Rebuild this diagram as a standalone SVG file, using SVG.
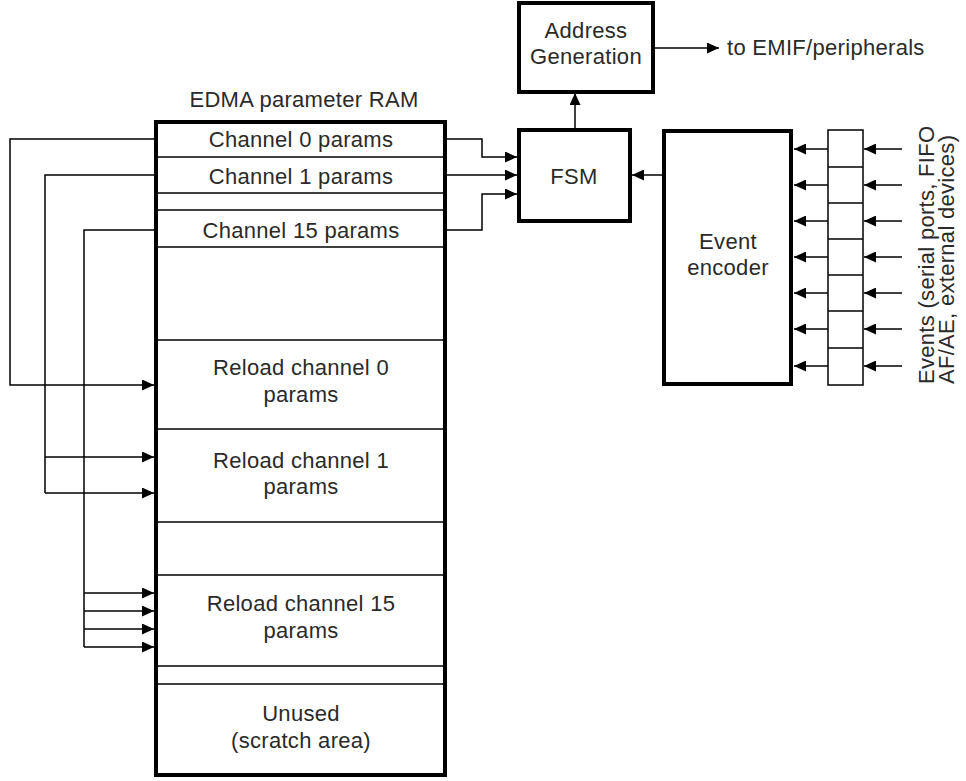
<svg xmlns="http://www.w3.org/2000/svg" width="966" height="781" viewBox="0 0 966 781">
<style>
text{font-family:"Liberation Sans",Arial,sans-serif;font-size:22px;letter-spacing:0.3px;fill:#2a2a2a;}
.c{text-anchor:middle;}
.box{fill:#fff;stroke:#000;stroke-width:4;}
.thin{fill:none;stroke:#000;stroke-width:1.5;}
.w{stroke:#000;stroke-width:1.5;fill:none;}
.a{stroke:#000;stroke-width:1.5;fill:none;marker-end:url(#ah);}
</style>
<defs>
<marker id="ah" markerUnits="userSpaceOnUse" markerWidth="12" markerHeight="11" refX="12" refY="5.5" orient="auto">
<path d="M0,0 L12,5.5 L0,11 z" fill="#000"/>
</marker>
</defs>
<rect width="966" height="781" fill="#fff"/>

<g id="connectors">
<polyline class="a" points="155,139 10,139 10,385 154,385"/>
<polyline class="w" points="155,175 45,175 45,493"/>
<line class="a" x1="45" y1="457" x2="154" y2="457"/>
<line class="a" x1="45" y1="493" x2="154" y2="493"/>
<polyline class="w" points="155,230 84,230 84,647"/>
<line class="a" x1="84" y1="593" x2="154" y2="593"/>
<line class="a" x1="84" y1="611" x2="154" y2="611"/>
<line class="a" x1="84" y1="629" x2="154" y2="629"/>
<line class="a" x1="84" y1="647" x2="154" y2="647"/>
<polyline class="a" points="446,139 482,139 482,157 517,157"/>
<line class="a" x1="446" y1="175" x2="517" y2="175"/>
<polyline class="a" points="446,230 482,230 482,194 517,194"/>
<line class="a" x1="575" y1="129" x2="575" y2="93"/>
<line class="a" x1="655" y1="48" x2="719" y2="48"/>
<line class="a" x1="662" y1="175" x2="632" y2="175"/>
<line class="a" x1="828" y1="149" x2="794" y2="149"/>
<line class="a" x1="828" y1="185" x2="794" y2="185"/>
<line class="a" x1="828" y1="221" x2="794" y2="221"/>
<line class="a" x1="828" y1="257" x2="794" y2="257"/>
<line class="a" x1="828" y1="293" x2="794" y2="293"/>
<line class="a" x1="828" y1="329" x2="794" y2="329"/>
<line class="a" x1="828" y1="366" x2="794" y2="366"/>
<line class="a" x1="902" y1="149" x2="864" y2="149"/>
<line class="a" x1="902" y1="185" x2="864" y2="185"/>
<line class="a" x1="902" y1="221" x2="864" y2="221"/>
<line class="a" x1="902" y1="257" x2="864" y2="257"/>
<line class="a" x1="902" y1="293" x2="864" y2="293"/>
<line class="a" x1="902" y1="329" x2="864" y2="329"/>
<line class="a" x1="902" y1="366" x2="864" y2="366"/>
</g>

<g id="edma-ram">
<text class="c" x="304" y="107">EDMA parameter RAM</text>
<rect class="box" x="156" y="122" width="289" height="653"/>
<line class="thin" x1="156" y1="157" x2="445" y2="157"/>
<line class="thin" x1="156" y1="193" x2="445" y2="193"/>
<line class="thin" x1="156" y1="210" x2="445" y2="210"/>
<line class="thin" x1="156" y1="247" x2="445" y2="247"/>
<line class="thin" x1="156" y1="340" x2="445" y2="340"/>
<line class="thin" x1="156" y1="429" x2="445" y2="429"/>
<line class="thin" x1="156" y1="522" x2="445" y2="522"/>
<line class="thin" x1="156" y1="575" x2="445" y2="575"/>
<line class="thin" x1="156" y1="666" x2="445" y2="666"/>
<line class="thin" x1="156" y1="684" x2="445" y2="684"/>
<text class="c" x="301" y="147">Channel 0 params</text>
<text class="c" x="301" y="184">Channel 1 params</text>
<text class="c" x="301" y="238">Channel 15 params</text>
<text class="c" x="301" y="375">Reload channel 0</text>
<text class="c" x="301" y="402">params</text>
<text class="c" x="301" y="468">Reload channel 1</text>
<text class="c" x="301" y="494">params</text>
<text class="c" x="301" y="611">Reload channel 15</text>
<text class="c" x="301" y="638">params</text>
<text class="c" x="301" y="721">Unused</text>
<text class="c" x="301" y="748">(scratch area)</text>
</g>

<g id="address-generation">
<rect class="box" x="519" y="3" width="134" height="89"/>
<text class="c" x="586" y="38">Address</text>
<text class="c" x="586" y="64">Generation</text>
</g>

<g id="fsm">
<rect class="box" x="519" y="130" width="111" height="91"/>
<text class="c" x="574" y="184">FSM</text>
</g>

<g id="event-encoder">
<rect class="box" x="664" y="131" width="127" height="253"/>
<text class="c" x="728" y="249">Event</text>
<text class="c" x="728" y="275">encoder</text>
</g>

<g id="event-register">
<rect class="thin" x="828" y="130" width="35" height="255"/>
<line class="thin" x1="828" y1="167" x2="863" y2="167"/>
<line class="thin" x1="828" y1="203" x2="863" y2="203"/>
<line class="thin" x1="828" y1="239" x2="863" y2="239"/>
<line class="thin" x1="828" y1="275" x2="863" y2="275"/>
<line class="thin" x1="828" y1="311" x2="863" y2="311"/>
<line class="thin" x1="828" y1="348" x2="863" y2="348"/>
</g>

<g id="labels">
<text x="727" y="55">to EMIF/peripherals</text>
<text transform="translate(934,384) rotate(-90)">Events (serial ports, FIFO</text>
<text transform="translate(954,384) rotate(-90)">AF/AE, external devices)</text>
</g>
</svg>
